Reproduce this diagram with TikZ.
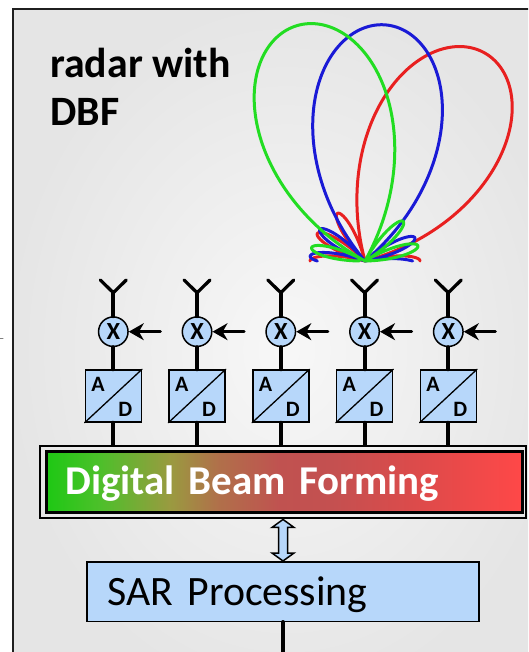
\documentclass[tikz,border=0pt]{standalone}
\usepackage{fontspec}
\setmainfont{Carlito}
\usepackage{tikz}
\usetikzlibrary{arrows.meta,calc}
\usepackage{xcolor}

\definecolor{adblue}{RGB}{183,215,250}
\definecolor{lobegreen}{RGB}{34,221,34}
\definecolor{lobeblue}{RGB}{26,26,214}
\definecolor{lobered}{RGB}{232,32,32}
\definecolor{dbfa}{RGB}{30,200,20}
\definecolor{dbfb}{RGB}{76,192,42}
\definecolor{dbfc}{RGB}{154,154,64}
\definecolor{dbfd}{RGB}{176,112,74}
\definecolor{dbfe}{RGB}{192,82,80}
\definecolor{dbff}{RGB}{196,80,80}
\definecolor{dbfg}{RGB}{224,74,74}
\definecolor{dbfh}{RGB}{255,72,72}
\pgfdeclarehorizontalshading{dbfshade}{100bp}{color(0bp)=(dbfa); color(25bp)=(dbfa);
  color(30.5bp)=(dbfb); color(38bp)=(dbfc); color(43bp)=(dbfd); color(49.5bp)=(dbfe);
  color(55bp)=(dbff); color(65bp)=(dbfg); color(75bp)=(dbfh); color(100bp)=(dbfh)}

\begin{document}
\begin{tikzpicture}[x=0.02cm,y=-0.02cm,>={Stealth[length=0.3cm,width=0.34cm]},line cap=round,
  declare function={lobe(\a,\L)=((abs(\a)<45) ? (\L*cos(2*\a)) : (55*abs(sin(6*(abs(\a)-45)))));},
  bigtext/.style={font=\fontsize{23.8}{27.2}\selectfont},
  feed/.style={line width=0.08cm},
  arm/.style={line width=0.065cm},
  lobeline/.style={line width=0.06cm,line join=round},
  mixer/.style={circle,draw,line width=0.03cm,fill=adblue,minimum size=0.59cm,inner sep=0pt,
    font=\bfseries\fontsize{14}{14}\selectfont},
  adbox/.style={draw,line width=0.03cm,fill=adblue,minimum width=1.12cm,minimum height=1.04cm,inner sep=0pt},
  adletter/.style={inner sep=0pt,font=\bfseries\fontsize{12.5}{12.5}\selectfont}]
\useasboundingbox (0,0) rectangle (528,652);
\begin{scope}
\clip (0,0) rectangle (528,652);
\path[draw=black!88,line width=0.04cm,inner color=black!3,outer color=black!10] (13,9.5) rectangle (560,690);
\end{scope}
\draw[gray,line width=0.02cm] (0,338) -- (3,338);

\node[font=\bfseries\fontsize{23.8}{27.2}\selectfont,align=left,anchor=north west,inner sep=0pt] (title) at (50,48) {radar with\\DBF};

% beam patterns
\draw[lobeline,lobered] plot[domain=-90:90,samples=361] ({365+lobe(\x-30,240)*sin(\x)},{261-lobe(\x-30,240)*cos(\x)});
\draw[lobeline,lobeblue] plot[domain=-90:90,samples=361] ({365+lobe(\x-5,237)*sin(\x)},{261-lobe(\x-5,237)*cos(\x)});
\draw[lobeline,lobegreen] plot[domain=-90:90,samples=361] ({365+lobe(\x+16,245)*sin(\x)},{261-lobe(\x+16,245)*cos(\x)});

\node[draw,line width=0.04cm,minimum width=9.72cm,minimum height=1.45cm,inner sep=0pt] (dbfout) at (283,482.2) {};
\node[draw,line width=0.06cm,shading=dbfshade,shade,minimum width=9.52cm,minimum height=1.22cm,
  text width=8.76cm,inner xsep=0.38cm,inner ysep=0pt,align=left,text height=0.54cm,text depth=0.06cm,
  text=white,font=\bfseries\fontsize{23.3}{27}\selectfont] (dbf) at (284.5,482) {Digital Beam Forming};

\foreach \i [evaluate=\i as \x using 29.55+83.75*\i] in {1,...,5}{
  \coordinate (ant\i) at (\x,292.7);
  \draw[arm] ({\x-13},280) -- (ant\i) -- ({\x+13},280);
  \node[mixer] (mix\i) at (\x,331.7) {X};
  \coordinate (lo\i) at ({\x+47},331.7);
  \node[adbox] (ad\i) at (\x,396) {};
  \draw[line width=0.026cm] (ad\i.south west) -- (ad\i.north east);
  \node[adletter,anchor=base west] (a\i) at ($(ad\i.north west)+(6.5,22)$) {A};
  \node[adletter,anchor=base east] (d\i) at ($(ad\i.south east)+(-9.5,-6)$) {D};
  \draw[feed] (ant\i) -- (mix\i.north);
  \draw[feed] (mix\i.south) -- (ad\i.north);
  \draw[feed] (ad\i.south) -- (ad\i.south |- dbfout.north);
  \draw[->,line width=0.065cm] (lo\i) -- (mix\i.east);
}

\node[draw,line width=0.03cm,fill=adblue,minimum width=7.85cm,minimum height=1.19cm,
  text width=7.01cm,inner xsep=0.42cm,inner ysep=0pt,align=left,text height=0.6cm,text depth=0.06cm,
  bigtext] (sar) at (283,591.5) {SAR Processing};

% link between beam former and SAR processor
\coordinate (tipup) at (dbfout.south);
\coordinate (tipdn) at (sar.north);
\draw[line width=0.03cm,fill=adblue,line join=miter] (tipup) -- ++(11,8) -- ++(-6.5,0)
  -- ($(tipdn)+(4.5,-8)$) -- ++(6.5,0) -- (tipdn) -- ++(-11,-8) -- ++(6.5,0)
  -- ($(tipup)+(-4.5,8)$) -- ++(-6.5,0) -- cycle;
\coordinate (out) at (sar.south |- 0,652);
\draw[feed] (sar.south) -- (out);
\end{tikzpicture}
\end{document}
